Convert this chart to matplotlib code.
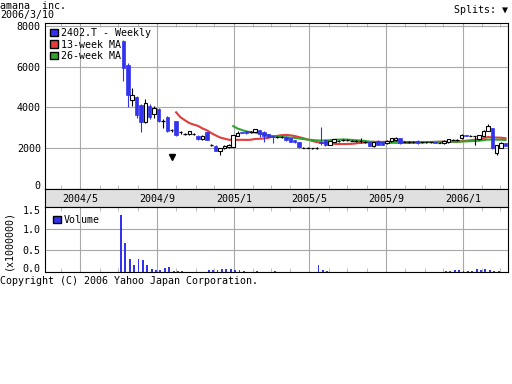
import matplotlib
matplotlib.use('Agg')
import matplotlib.pyplot as plt
import matplotlib.dates as mdates
import matplotlib.transforms as mtrans
from matplotlib.patches import Patch
import pandas as pd

plt.rcParams['font.family'] = ['DejaVu Sans Mono', 'DejaVu Sans']
plt.rcParams['font.size'] = 7.2

# weekly prices of 2402.T, first week ends 2004-07-09
first_week = '2004-07-09'
opens = [7300, 6100, 4380, 4500, 4100, 3300, 4080, 3680, 3900, 3350, 3550, 2900, 3330,
         2780, 2720, 2680, 2690, 2600, 2420, 2780, 2160, 2120, 1860, 1990, 2030, 2070, 2600,
         2790, 2820, 2780, 2790, 2890, 2800, 2680, 2600, 2560, 2530, 2560, 2480, 2380, 2310,
         2030, 2010, 2000, 1990, 2300, 2400, 2150, 2300, 2370, 2380, 2400, 2370, 2360, 2340,
         2300, 2310, 2120, 2350, 2310, 2230, 2340, 2380, 2480, 2320, 2310, 2300, 2360, 2280,
         2270, 2280, 2290, 2260, 2230, 2290, 2410, 2400, 2480, 2640, 2610, 2580, 2430, 2600,
         2860, 2970, 1740, 2000, 2230]
highs = [7350, 6200, 4950, 4550, 4150, 4420, 4150, 4050, 3950, 3450, 3580, 2950, 3350,
         2820, 2760, 2850, 2720, 2620, 2620, 2800, 2200, 2150, 2000, 2130, 2180, 2650, 2850,
         2800, 2850, 2830, 2960, 2900, 2820, 2700, 2620, 2600, 2580, 2580, 2500, 2400, 2320,
         2050, 2030, 2020, 2040, 3050, 2420, 2350, 2440, 2400, 2420, 2430, 2400, 2390, 2480,
         2330, 2330, 2300, 2380, 2330, 2370, 2490, 2530, 2500, 2350, 2340, 2330, 2380, 2310,
         2310, 2300, 2310, 2290, 2370, 2450, 2440, 2430, 2700, 2660, 2630, 2600, 2660, 2870,
         3190, 3000, 2170, 2280, 2260]
lows = [5300, 4000, 4050, 3500, 2800, 3250, 3450, 3500, 3300, 3000, 2800, 2800, 2600,
        2700, 2660, 2650, 2620, 2400, 2380, 2380, 2100, 1830, 1660, 1950, 2000, 2050, 2580,
        2720, 2700, 2740, 2770, 2560, 2300, 2540, 2230, 2500, 2480, 2340, 2280, 2250, 2010,
        1990, 1980, 1970, 1970, 2150, 2120, 2130, 2280, 2320, 2340, 2350, 2330, 2320, 2230,
        2260, 2100, 2040, 2130, 2130, 2210, 2320, 2360, 2210, 2280, 2270, 2260, 2210, 2240,
        2240, 2250, 2230, 2230, 2210, 2270, 2370, 2360, 2460, 2580, 2570, 2150, 2400, 2580,
        2840, 1960, 1650, 1980, 2080]
closes = [5950, 4600, 4620, 3650, 3300, 4200, 3550, 3960, 3350, 3330, 2850, 2880, 2650,
          2750, 2700, 2830, 2680, 2430, 2590, 2400, 2140, 1860, 1990, 2100, 2150, 2620, 2730,
          2740, 2750, 2790, 2940, 2700, 2600, 2560, 2560, 2540, 2520, 2370, 2310, 2300, 2040,
          2010, 2000, 1990, 2010, 2230, 2150, 2330, 2420, 2360, 2370, 2390, 2360, 2350, 2330,
          2290, 2120, 2280, 2150, 2150, 2350, 2470, 2510, 2230, 2310, 2300, 2290, 2230, 2270,
          2280, 2270, 2250, 2250, 2350, 2430, 2400, 2390, 2650, 2600, 2590, 2560, 2640, 2850,
          3080, 1990, 2150, 2260, 2100]
# largest daily volume in each week, millions of shares
volumes = [1.32, 0.68, 0.30, 0.16, 0.31, 0.28, 0.16, 0.06, 0.05, 0.04, 0.10, 0.12, 0.03,
           0.02, 0.02, 0.01, 0.01, 0.01, 0.01, 0.01, 0.04, 0.05, 0.04, 0.06, 0.07, 0.06, 0.05,
           0.04, 0.03, 0.01, 0.01, 0.02, 0.01, 0.01, 0.01, 0.02, 0.01, 0.01, 0.01, 0.01, 0.01,
           0.01, 0.01, 0.01, 0.01, 0.16, 0.04, 0.02, 0.01, 0.01, 0.01, 0.01, 0.01, 0.01, 0.01,
           0.01, 0.01, 0.01, 0.01, 0.01, 0.01, 0.01, 0.01, 0.01, 0.01, 0.01, 0.01, 0.01, 0.01,
           0.01, 0.01, 0.01, 0.01, 0.01, 0.03, 0.02, 0.04, 0.05, 0.03, 0.02, 0.03, 0.06, 0.04,
           0.07, 0.05, 0.03, 0.02, 0.01]
split_dates = ['2004-09-24']
split_marks = [1550]

month_labels = ['2004/5', '2004/9', '2005/1', '2005/5', '2005/9', '2006/1']
month_dates = ['2004-05-01', '2004-09-01', '2005-01-01', '2005-05-01', '2005-09-01', '2006-01-01']
x_range = ['2004-03-06', '2006-03-14']

blue = '#3333ee'
red = '#e23c3c'
green = '#2ea52e'
gridc = '#a8a8a8'

df = pd.DataFrame({'open': opens, 'high': highs, 'low': lows, 'close': closes, 'vol': volumes},
                  index=pd.date_range(first_week, periods=len(opens), freq='7D'))
df['ma13'] = df['close'].rolling(13).mean()
df['ma26'] = df['close'].rolling(26).mean()
x = mdates.date2num(df.index)
xlim = mdates.date2num(pd.to_datetime(x_range))
ticks = mdates.date2num(pd.to_datetime(month_dates))

fig = plt.figure(figsize=(5.12, 3.84), dpi=100)
ax = fig.add_axes([45/512, 1 - 188.5/384, 463/512, 165.5/384])
band = fig.add_axes([45/512, 1 - 207/384, 463/512, 18.5/384])
axv = fig.add_axes([45/512, 1 - 272/384, 463/512, 65/384])

for a in (ax, axv):
    a.set_xlim(xlim)
    a.set_xticks(ticks)
    a.set_xticklabels([])
    a.xaxis.set_minor_locator(mdates.MonthLocator())
    a.tick_params(which='major', length=0, pad=3)
    a.tick_params(which='minor', direction='in', length=3, top=True, bottom=True, color='#b0b0b0')
    a.grid(True, color=gridc, linewidth=0.8)
    a.set_axisbelow(True)
    for s in a.spines.values():
        s.set_linewidth(0.8)

# moving averages
ax.plot(x, df['ma13'], color=red, linewidth=1.5, zorder=2)
ax.plot(x, df['ma26'], color=green, linewidth=1.5, zorder=2)

# candles
w = 5.5
for xi, o, h, l, c in zip(x, df['open'], df['high'], df['low'], df['close']):
    if abs(c - o) <= 30:
        ax.vlines(xi, l, h, color='black', linewidth=0.8, zorder=3)
        ax.hlines((o + c) / 2, xi - w / 2, xi + w / 2, color='black', linewidth=0.9, zorder=3)
    elif c < o:
        ax.vlines(xi, l, h, color=blue, linewidth=0.8, zorder=3)
        ax.bar(xi, o - c, bottom=c, width=w, color=blue, edgecolor=blue, linewidth=0.5, zorder=3)
    else:
        ax.vlines(xi, l, h, color='black', linewidth=0.8, zorder=3)
        ax.bar(xi, c - o, bottom=o, width=w, color='white', edgecolor='black', linewidth=0.8, zorder=4)

ax.plot(mdates.date2num(pd.to_datetime(split_dates)), split_marks, 'v', color='black', markersize=5)

ax.set_ylim(0, 8170)
ax.set_yticks([0, 2000, 4000, 6000, 8000])
ax.set_yticklabels(['0', '2000', '4000', '6000', '8000'])
ax.legend(handles=[Patch(facecolor=blue, edgecolor='black', label='2402.T - Weekly'),
                   Patch(facecolor=red, edgecolor='black', label='13-week MA'),
                   Patch(facecolor=green, edgecolor='black', label='26-week MA')],
          loc='upper left', frameon=False, handlelength=0.75, handleheight=0.75,
          handletextpad=0.35, labelspacing=0.15, borderaxespad=0.2, borderpad=0.3)

# date band
band.set_facecolor('#e0e0e0')
band.set_xlim(xlim)
band.set_xticks([])
band.set_yticks([])
for s in band.spines.values():
    s.set_linewidth(0.8)
for t, lab in zip(ticks, month_labels):
    band.text(t, 0.45, lab, ha='center', va='center', transform=band.get_xaxis_transform())

# volume
axv.bar(x - 4, df['vol'], width=3, color=blue, zorder=3)
axv.set_ylim(0, 1.51)
axv.set_yticks([0, 0.5, 1.0, 1.5])
axv.set_yticklabels(['0.0', '0.5', '1.0', '1.5'])
axv.legend(handles=[Patch(facecolor=blue, edgecolor='black', label='Volume')],
           loc='upper left', frameon=False, handlelength=0.75, handleheight=0.75,
           handletextpad=0.35, borderaxespad=0.2, borderpad=0.6)
fig.text(8/512, 1 - 240/384, '(x1000000)', rotation=90, ha='center', va='center')

# nudge the bottom labels up like the original
up = mtrans.ScaledTranslation(0, 4/100, fig.dpi_scale_trans)
ax.get_yticklabels()[0].set_transform(ax.get_yticklabels()[0].get_transform() + up)
axv.get_yticklabels()[0].set_transform(axv.get_yticklabels()[0].get_transform() + up)
down = mtrans.ScaledTranslation(0, -3/100, fig.dpi_scale_trans)
axv.get_yticklabels()[-1].set_transform(axv.get_yticklabels()[-1].get_transform() + down)

fig.text(0, 1 - 1/384, 'amana  inc.', ha='left', va='top')
fig.text(0, 1 - 10/384, '2006/3/10', ha='left', va='top')
fig.text(508/512, 1 - 5/384, 'Splits: \u25bc', ha='right', va='top')
fig.text(0, 1 - 276/384, 'Copyright (C) 2006 Yahoo Japan Corporation.', ha='left', va='top')

fig.savefig('out.png', dpi=100)
